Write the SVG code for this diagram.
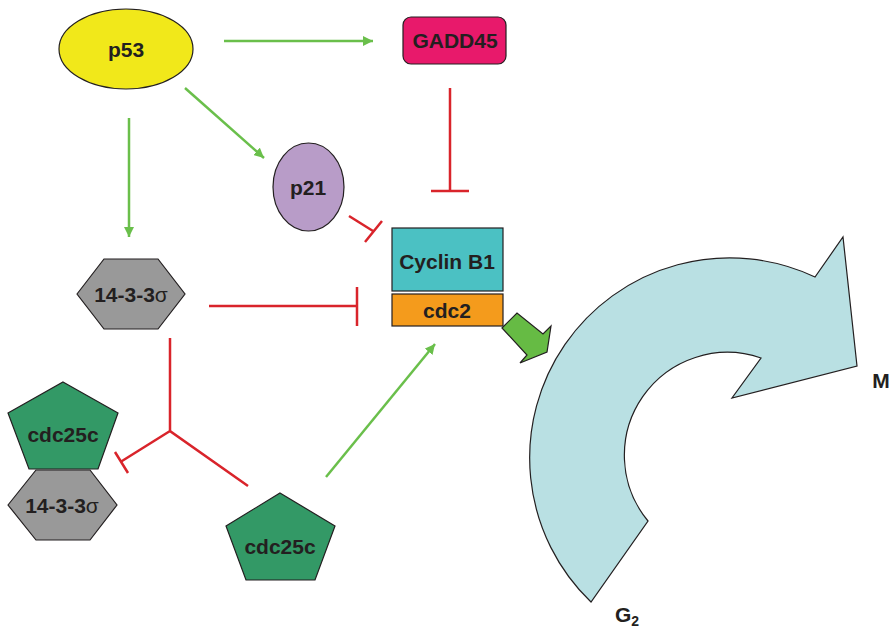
<svg xmlns="http://www.w3.org/2000/svg" width="892" height="630" viewBox="0 0 892 630">
<defs>
<marker id="ah" viewBox="0 0 10 10" refX="10" refY="5" markerWidth="10" markerHeight="10" markerUnits="userSpaceOnUse" orient="auto">
<path d="M0,0 L10,5 L0,10 Z" fill="#6abf4b"/>
</marker>
<style>
.lbl{font-family:"Liberation Sans",Arial,sans-serif;font-weight:bold;font-size:21px;fill:#231f20;text-anchor:middle}
.sh{stroke:#231f20;stroke-width:1.2}
.act{stroke:#6abf4b;stroke-width:2.5;fill:none}
.inh{stroke:#d9242b;stroke-width:2.5;fill:none}
.sig{font-weight:normal}
</style>
</defs>
<rect width="892" height="630" fill="#ffffff"/>
<g id="connectors">
<line class="act" x1="224" y1="41" x2="373" y2="41" marker-end="url(#ah)"/>
<line class="act" x1="185" y1="88" x2="264" y2="158" marker-end="url(#ah)"/>
<line class="act" x1="129" y1="118" x2="129" y2="237" marker-end="url(#ah)"/>
<line class="act" x1="326" y1="477" x2="435" y2="344" marker-end="url(#ah)"/>
<path class="inh" d="M450,88 L450,191 M431,191 L469,191"/>
<path class="inh" d="M349,216 L373,231 M382,221 L365,242"/>
<path class="inh" d="M209,306 L357,306 M357,287 L357,326"/>
<path class="inh" d="M170,338 L170,431 L248,486 M170,431 L122,461 M115,452 L128,473"/>
<path d="M502,328 L517,313 L543,334 L551,326 L547,352 L520,363 L527,355 Z" fill="#66bb44" class="sh"/>
</g>
<g id="cycle">
<path d="M591,602 A200,200 0 0 1 815,277 L843,237 L857,366 L732,398 L761,358 A103,103 0 0 0 648,521 Z" fill="#b9e0e3" class="sh"/>
<text class="lbl" x="881" y="388">M</text>
<text class="lbl" x="627" y="622">G<tspan font-size="14" dy="4">2</tspan></text>
</g>
<g id="p53">
<ellipse cx="126" cy="49" rx="67" ry="40" fill="#f1e81a" class="sh"/>
<text class="lbl" x="126" y="57">p53</text>
</g>
<g id="gadd45">
<rect x="403" y="17" width="103" height="47" rx="8" fill="#e8196b" class="sh"/>
<text class="lbl" x="455" y="48">GADD45</text>
</g>
<g id="p21">
<ellipse cx="308.5" cy="187" rx="35.5" ry="44" fill="#b89cc8" class="sh"/>
<text class="lbl" x="308" y="195">p21</text>
</g>
<g id="cyclinb1">
<rect x="392" y="228" width="111" height="63" fill="#4bc1c3" class="sh"/>
<text class="lbl" x="447" y="269">Cyclin B1</text>
</g>
<g id="cdc2">
<rect x="392" y="294" width="111" height="32" fill="#f49b1c" class="sh"/>
<text class="lbl" x="447" y="318">cdc2</text>
</g>
<g id="sigma-top">
<polygon points="77,294 104,259 158,259 185,294 158,329 104,329" fill="#999999" class="sh"/>
<text class="lbl" x="131" y="302">14-3-3<tspan class="sig">σ</tspan></text>
</g>
<g id="cdc25c-complex">
<polygon points="63,382 118,413 98,469 29,469 8,413" fill="#339966" class="sh"/>
<text class="lbl" x="63" y="442">cdc25c</text>
</g>
<g id="sigma-complex">
<polygon points="8,505 36,470 90,470 117,505 90,540 36,540" fill="#999999" class="sh"/>
<text class="lbl" x="62" y="513">14-3-3<tspan class="sig">σ</tspan></text>
</g>
<g id="cdc25c">
<polygon points="280,493 335,526 315,580 246,580 226,526" fill="#339966" class="sh"/>
<text class="lbl" x="280" y="554">cdc25c</text>
</g>
</svg>
